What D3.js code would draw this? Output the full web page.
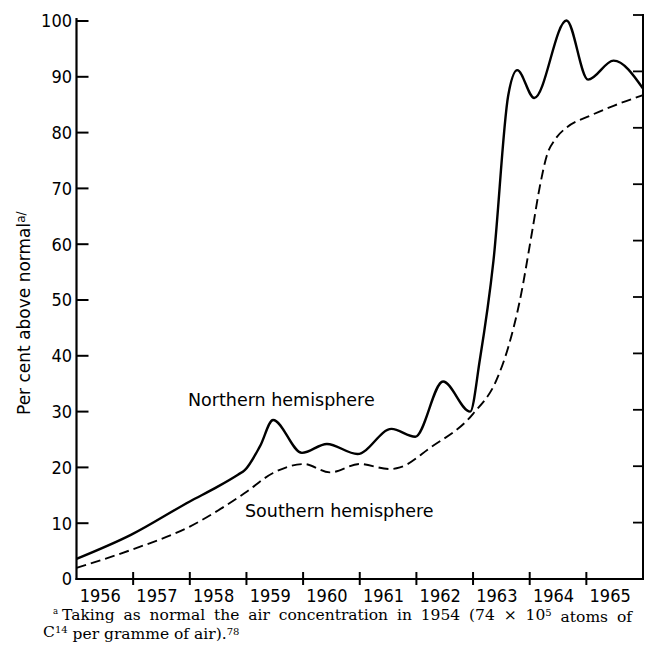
<!DOCTYPE html>
<html>
<head>
<meta charset="utf-8">
<script src="https://cdn.jsdelivr.net/npm/d3@7"></script>
<style>
  html, body { margin: 0; padding: 0; background: #fff; }
  svg { display: block; }
</style>
</head>
<body>
<svg id="chart" width="649" height="649"></svg>
<script>
// ---- data ----
const northYears  = [1956.0, 1956.96, 1958.0, 1958.5, 1958.85, 1958.97, 1959.24, 1959.47, 1959.98, 1960.42, 1960.96, 1961.56, 1961.98, 1962.47, 1962.95, 1963.12, 1963.36, 1963.62, 1963.78, 1964.08, 1964.65, 1965.03, 1965.48, 1966.0];
const northValues = [3.6,    7.9,     13.9,   16.6,   18.7,    19.5,    23.8,    28.5,    22.6,    24.2,    22.4,    26.9,    25.5,    35.4,    30.0,    39.3,    57.0,    86.6,    91.2,    86.2,    100.1,   89.5,    92.9,    87.9];

const southYears  = [1956.0, 1956.96, 1958.0, 1958.97, 1959.47, 1960.02, 1960.47, 1961.0, 1961.53, 1961.71, 1962.24, 1963.0, 1963.42, 1963.62, 1963.83, 1964.04, 1964.18, 1964.30, 1964.45, 1964.65, 1965.06, 1965.48, 1966.0];
const southValues = [2.0,    5.2,     9.4,    15.4,    19.0,    20.6,    19.1,    20.6,   19.7,    20.0,    23.5,    29.6,   35.8,    41.5,    50.1,    62.1,    70.4,    75.8,    78.8,    80.9,    83.0,    84.8,    86.7];

const yearLabels = [1956, 1957, 1958, 1959, 1960, 1961, 1962, 1963, 1964, 1965];
const yearTicks  = [1957, 1958, 1959, 1960, 1961, 1962, 1963, 1964, 1965];
const yTicks     = [0, 10, 20, 30, 40, 50, 60, 70, 80, 90, 100];
const rightTicks = [10, 20, 30, 40, 50, 60, 70, 80, 90, 100];

const yAxisTitle  = "Per cent above normal";
const yAxisSuper  = "a/";
const northLabel  = "Northern hemisphere";
const southLabel  = "Southern hemisphere";
const footMark    = "a";
const footLine1   = ["Taking as normal the air concentration in 1954 (74 \u00D7 10", "5", " atoms of"];
const footLine2   = ["C", "14", " per gramme of air).", "78"];

// ---- scales ----
const svg = d3.select("#chart");
const x  = d3.scaleLinear().domain([1956, 1966]).range([76.5, 643]);
const y  = d3.scaleLinear().domain([0, 100]).range([579, 21]);
const yR = d3.scaleLinear().domain([0, 100]).range([579, 15]);

const tickFont = "'Liberation Sans Narrow', 'DejaVu Sans Condensed', 'Arial Narrow', sans-serif";
const textFont = "'DejaVu Sans', sans-serif";
const serif    = "'DejaVu Serif', 'Liberation Serif', serif";

// ---- axes frame ----
const frame = svg.append("g").attr("stroke", "#000").attr("fill", "none");
frame.append("line").attr("x1", x(1956)).attr("x2", x(1956))
  .attr("y1", y(0) + 1).attr("y2", y(100) - 3).attr("stroke-width", 2.2);
frame.append("line").attr("x1", x(1956) - 1).attr("x2", x(1966) + 1)
  .attr("y1", y(0)).attr("y2", y(0)).attr("stroke-width", 2);
frame.append("line").attr("x1", x(1966)).attr("x2", x(1966))
  .attr("y1", y(0) + 1).attr("y2", yR(100) - 1).attr("stroke-width", 2);

frame.selectAll(".lt").data(yTicks.filter(d => d > 0)).join("line")
  .attr("x1", x(1956)).attr("x2", x(1956) + 12)
  .attr("y1", d => y(d)).attr("y2", d => y(d))
  .attr("stroke-width", 2);
frame.selectAll(".rt").data(rightTicks).join("line")
  .attr("x1", x(1966)).attr("x2", x(1966) - 10)
  .attr("y1", d => yR(d)).attr("y2", d => yR(d))
  .attr("stroke-width", 1.8);
frame.selectAll(".bt").data(yearTicks).join("line")
  .attr("x1", d => x(d)).attr("x2", d => x(d))
  .attr("y1", y(0) - 7).attr("y2", y(0) + 6)
  .attr("stroke-width", 2);

// tick labels
svg.append("g").selectAll("text").data(yTicks).join("text")
  .attr("x", 72).attr("y", d => y(d)).attr("dy", "0.36em")
  .attr("text-anchor", "end")
  .attr("font-family", tickFont).attr("font-size", 18)
  .text(d => d);

svg.append("g").selectAll("text").data(yearLabels).join("text")
  .attr("x", d => x(d + 0.42)).attr("y", 602)
  .attr("text-anchor", "middle")
  .attr("font-family", tickFont).attr("font-size", 18)
  .text(d => d);

// y-axis title
const yt = svg.append("text")
  .attr("transform", "translate(30,415) rotate(-90)")
  .attr("font-family", textFont).attr("font-size", 17);
yt.append("tspan").text(yAxisTitle);
yt.append("tspan").attr("dy", "-0.45em").attr("font-size", 12).text(yAxisSuper);

// ---- lines ----
const north = northYears.map((d, i) => [d, northValues[i]]);
const south = southYears.map((d, i) => [d, southValues[i]]);
const line = d3.line().x(d => x(d[0])).y(d => y(d[1])).curve(d3.curveMonotoneX);

svg.append("path").datum(south).attr("d", line)
  .attr("fill", "none").attr("stroke", "#000").attr("stroke-width", 1.9)
  .attr("stroke-dasharray", "10,5");
svg.append("path").datum(north).attr("d", line)
  .attr("fill", "none").attr("stroke", "#000").attr("stroke-width", 2.4)
  .attr("stroke-linejoin", "round");

// ---- annotations ----
svg.append("text").attr("x", 188).attr("y", 406)
  .attr("font-family", textFont).attr("font-size", 17.5).text(northLabel);
svg.append("text").attr("x", 245).attr("y", 517)
  .attr("font-family", textFont).attr("font-size", 17.5).text(southLabel);

// ---- footnote ----
svg.append("text").attr("x", 53).attr("y", 614)
  .attr("font-family", serif).attr("font-size", 8.5).text(footMark);
const f1 = svg.append("text").attr("x", 62).attr("y", 620)
  .attr("font-family", serif).attr("font-size", 15.5);
f1.append("tspan").text(footLine1[0]);
f1.append("tspan").attr("dy", "-0.45em").attr("font-size", 10).text(footLine1[1]);
f1.append("tspan").attr("dy", "0.45em").text(footLine1[2]);
// justify line 1 by widening word spacing
const natural = f1.node().getComputedTextLength();
const spaces = (footLine1.join("").match(/ /g) || []).length;
const target = 632 - 62;
if (natural < target && spaces > 0) f1.attr("word-spacing", (target - natural) / spaces);
else if (natural > target) f1.attr("textLength", target).attr("lengthAdjust", "spacingAndGlyphs");

const f2 = svg.append("text").attr("x", 43).attr("y", 637)
  .attr("font-family", serif).attr("font-size", 15.5);
f2.append("tspan").text(footLine2[0]);
f2.append("tspan").attr("dy", "-0.45em").attr("font-size", 10).text(footLine2[1]);
f2.append("tspan").attr("dy", "0.45em").text(footLine2[2]);
f2.append("tspan").attr("dy", "-0.45em").attr("font-size", 10).text(footLine2[3]);
</script>
</body>
</html>
